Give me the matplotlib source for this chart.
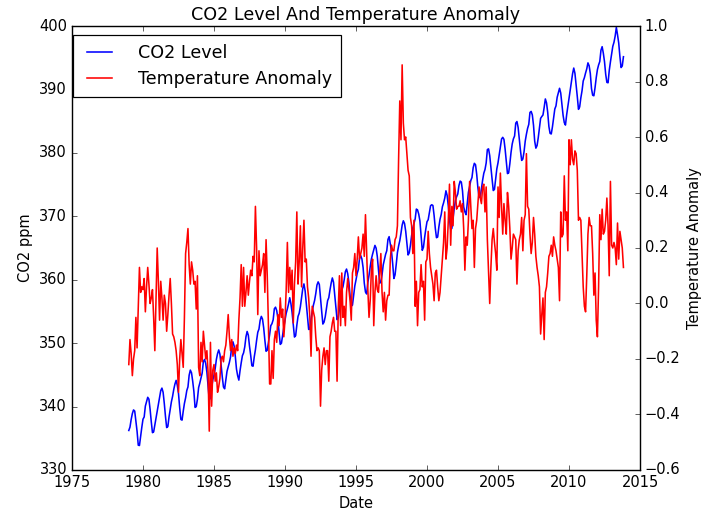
import numpy as np
import matplotlib
matplotlib.use("Agg")
import matplotlib.pyplot as plt
from matplotlib.ticker import FormatStrFormatter

# Monthly series, January 1979 through November 2013
start_year = 1979

co2_ppm = [
    336.23, 336.76, 337.96, 338.89, 339.47, 339.29, 337.73, 336.09, 333.91, 333.86, 335.29, 336.73,  # 1979
    338.01, 338.36, 340.08, 340.77, 341.46, 341.17, 339.56, 337.60, 335.88, 336.01, 337.10, 338.21,  # 1980
    339.23, 340.47, 341.38, 342.51, 342.91, 342.25, 340.49, 338.43, 336.69, 336.85, 338.36, 339.61,  # 1981
    340.75, 341.61, 342.70, 343.56, 344.13, 343.35, 342.06, 339.82, 337.97, 337.86, 339.26, 340.49,  # 1982
    341.38, 342.52, 343.10, 344.94, 345.75, 345.32, 343.99, 342.39, 339.86, 339.99, 341.16, 342.99,  # 1983
    343.70, 344.51, 345.28, 347.08, 347.43, 346.79, 345.40, 343.28, 341.07, 341.35, 342.98, 344.22,  # 1984
    344.97, 345.99, 347.42, 348.35, 348.93, 348.25, 346.56, 344.67, 343.09, 342.80, 344.24, 345.56,  # 1985
    346.29, 346.96, 347.86, 349.55, 350.21, 349.54, 347.94, 345.91, 344.86, 344.17, 345.66, 346.90,  # 1986
    348.02, 348.47, 349.42, 350.99, 351.84, 351.25, 349.52, 348.10, 346.44, 346.36, 347.81, 348.96,  # 1987
    350.43, 351.72, 352.22, 353.59, 354.22, 353.79, 352.39, 350.44, 348.72, 348.88, 350.07, 351.34,  # 1988
    352.76, 353.07, 353.68, 355.42, 355.67, 355.13, 353.90, 351.67, 349.80, 349.99, 351.30, 352.53,  # 1989
    353.66, 354.70, 355.39, 356.20, 357.16, 356.22, 354.82, 352.91, 350.96, 351.18, 352.83, 354.21,  # 1990
    354.72, 355.75, 357.16, 358.60, 359.34, 358.24, 356.17, 354.03, 352.16, 352.21, 353.75, 354.99,  # 1991
    355.99, 356.72, 357.81, 359.15, 359.66, 359.25, 357.02, 355.00, 353.01, 353.31, 354.16, 355.40,  # 1992
    356.70, 357.16, 358.38, 359.46, 360.28, 359.60, 357.57, 355.52, 353.70, 353.98, 355.33, 356.80,  # 1993
    358.36, 358.91, 359.97, 361.26, 361.68, 360.95, 359.55, 357.49, 355.84, 355.99, 357.58, 359.04,  # 1994
    359.97, 361.00, 361.64, 363.45, 363.79, 363.26, 361.90, 359.46, 358.06, 357.75, 359.56, 360.70,  # 1995
    362.05, 363.25, 364.03, 364.72, 365.41, 364.97, 363.65, 361.49, 359.46, 359.60, 360.76, 362.33,  # 1996
    363.18, 364.00, 364.57, 366.35, 366.79, 365.62, 364.47, 362.51, 360.19, 360.77, 362.43, 364.28,  # 1997
    365.32, 366.15, 367.31, 368.61, 369.29, 368.87, 367.64, 365.77, 363.90, 364.23, 365.46, 366.97,  # 1998
    368.15, 368.87, 369.59, 371.14, 371.00, 370.35, 369.27, 366.94, 364.63, 365.12, 366.67, 368.01,  # 1999
    369.14, 369.46, 370.52, 371.66, 371.82, 371.70, 370.12, 368.12, 366.62, 366.73, 368.29, 369.53,  # 2000
    370.28, 371.50, 372.12, 372.87, 374.02, 373.30, 371.62, 369.55, 367.96, 368.09, 369.68, 371.24,  # 2001
    372.44, 373.08, 373.52, 374.85, 375.55, 375.40, 374.02, 371.48, 370.70, 370.25, 372.08, 373.78,  # 2002
    374.68, 375.63, 376.11, 377.65, 378.35, 378.13, 376.62, 374.50, 372.99, 373.01, 374.35, 375.70,  # 2003
    376.79, 377.37, 378.41, 380.52, 380.63, 379.57, 377.79, 375.86, 374.06, 374.24, 375.86, 377.48,  # 2004
    378.43, 379.70, 380.92, 382.18, 382.45, 382.14, 380.60, 378.64, 376.73, 376.84, 378.29, 380.06,  # 2005
    381.40, 382.20, 382.66, 384.69, 384.94, 384.01, 382.14, 380.31, 378.81, 379.03, 380.17, 381.85,  # 2006
    382.94, 383.86, 384.49, 386.37, 386.54, 385.98, 384.35, 381.85, 380.74, 381.15, 382.38, 383.94,  # 2007
    385.44, 385.73, 385.97, 387.16, 388.50, 387.88, 386.38, 384.15, 383.07, 382.98, 384.11, 385.54,  # 2008
    386.92, 387.41, 388.77, 389.46, 390.18, 389.43, 387.74, 385.91, 384.77, 384.38, 385.99, 387.26,  # 2009
    388.45, 389.82, 391.08, 392.46, 393.37, 392.55, 390.78, 388.87, 386.86, 387.24, 388.67, 389.79,  # 2010
    391.33, 391.86, 392.60, 393.25, 394.19, 393.74, 392.51, 390.13, 389.08, 389.00, 390.28, 391.86,  # 2011
    393.12, 393.86, 394.40, 396.18, 396.74, 395.71, 394.36, 392.39, 391.11, 391.05, 392.98, 394.34,  # 2012
    395.55, 396.80, 397.43, 398.41, 399.78, 398.61, 397.32, 395.20, 393.45, 393.70, 395.16,          # 2013
]

temp_anomaly = [
    -0.22, -0.13, -0.18, -0.26, -0.20, -0.17, -0.05, -0.16, -0.02, 0.13, 0.04, 0.06,   # 1979
    0.05, 0.09, -0.03, 0.06, 0.13, 0.07, 0.00, 0.02, 0.05, -0.05, -0.17, 0.02,         # 1980
    0.20, 0.08, -0.06, 0.08, 0.02, -0.06, 0.03, 0.00, -0.10, -0.04, 0.03, 0.09,        # 1981
    0.00, -0.11, -0.12, -0.14, -0.17, -0.22, -0.32, -0.20, -0.13, -0.18, -0.23, -0.05, # 1982
    0.18, 0.22, 0.27, 0.14, 0.07, 0.15, 0.12, 0.07, 0.08, -0.02, 0.10, -0.23,          # 1983
    -0.26, -0.14, -0.21, -0.10, -0.15, -0.20, -0.17, -0.25, -0.46, -0.14, -0.37, -0.24, # 1984
    -0.22, -0.28, -0.25, -0.32, -0.30, -0.27, -0.20, -0.19, -0.21, -0.17, -0.15, -0.10, # 1985
    -0.04, -0.12, -0.17, -0.13, -0.19, -0.16, -0.18, -0.15, -0.17, -0.06, 0.02, 0.14,  # 1986
    -0.01, 0.13, -0.01, 0.04, 0.10, 0.03, 0.08, 0.12, 0.10, 0.17, 0.15, 0.35,          # 1987
    0.20, -0.04, 0.19, 0.10, 0.12, 0.14, 0.18, 0.04, 0.23, 0.10, -0.08, -0.29,         # 1988
    -0.29, -0.17, -0.27, -0.13, -0.10, -0.14, -0.04, -0.08, 0.02, -0.05, -0.02, -0.12, # 1989
    -0.06, 0.05, 0.22, 0.04, 0.13, 0.05, 0.12, -0.07, 0.07, 0.15, 0.33, 0.07,          # 1990
    0.15, 0.28, 0.06, 0.20, 0.30, 0.15, 0.16, 0.06, 0.02, -0.05, -0.19, -0.01,         # 1991
    -0.03, -0.05, -0.12, -0.17, -0.16, -0.17, -0.37, -0.24, -0.19, -0.16, -0.22, -0.17, # 1992
    -0.17, -0.28, -0.12, -0.10, -0.07, -0.05, -0.10, -0.10, -0.28, -0.02, 0.10, -0.08, # 1993
    0.11, -0.05, -0.01, -0.08, 0.04, 0.09, 0.05, 0.01, -0.06, 0.11, 0.13, 0.18,        # 1994
    0.10, 0.16, 0.24, 0.16, 0.18, 0.20, 0.25, 0.17, 0.32, 0.19, 0.05, -0.05,           # 1995
    0.01, 0.12, 0.16, -0.08, 0.04, 0.10, 0.05, 0.04, 0.11, 0.18, 0.04, -0.03,          # 1996
    0.04, -0.06, 0.01, 0.03, 0.03, 0.16, 0.21, 0.19, 0.19, 0.23, 0.24, 0.28,           # 1997
    0.52, 0.73, 0.59, 0.86, 0.65, 0.59, 0.60, 0.54, 0.48, 0.46, 0.31, 0.28,            # 1998
    0.18, 0.30, -0.01, 0.08, -0.08, 0.04, 0.05, 0.14, 0.06, 0.08, -0.06, 0.15,         # 1999
    0.16, 0.26, 0.18, 0.13, 0.10, 0.07, 0.01, 0.11, 0.12, 0.06, 0.01, 0.04,            # 2000
    0.10, 0.16, 0.22, 0.33, 0.16, 0.20, 0.30, 0.43, 0.21, 0.35, 0.28, 0.44,            # 2001
    0.40, 0.34, 0.35, 0.35, 0.37, 0.33, 0.36, 0.27, 0.12, 0.24, 0.21, 0.30,            # 2002
    0.44, 0.35, 0.27, 0.30, 0.13, 0.27, 0.30, 0.36, 0.42, 0.38, 0.36, 0.42,            # 2003
    0.43, 0.33, 0.42, 0.23, 0.11, 0.00, 0.13, 0.23, 0.27, 0.22, 0.18, 0.12,            # 2004
    0.42, 0.31, 0.47, 0.35, 0.25, 0.36, 0.30, 0.25, 0.40, 0.35, 0.27, 0.16,            # 2005
    0.20, 0.25, 0.24, 0.23, 0.07, 0.19, 0.23, 0.25, 0.31, 0.19, 0.30, 0.32,            # 2006
    0.54, 0.35, 0.34, 0.25, 0.18, 0.22, 0.31, 0.25, 0.17, 0.13, 0.10, 0.06,            # 2007
    -0.11, -0.04, 0.02, -0.13, 0.04, 0.06, 0.11, 0.17, 0.18, 0.21, 0.17, 0.24,         # 2008
    0.21, 0.19, 0.16, 0.13, 0.01, 0.33, 0.24, 0.25, 0.46, 0.30, 0.33, 0.19,            # 2009
    0.59, 0.50, 0.59, 0.52, 0.50, 0.55, 0.54, 0.48, 0.30, 0.31, 0.30, 0.18,            # 2010
    0.06, -0.01, -0.03, 0.10, 0.25, 0.31, 0.28, 0.28, 0.18, 0.03, 0.11, -0.06,         # 2011
    -0.12, 0.06, 0.32, 0.23, 0.34, 0.25, 0.26, 0.30, 0.38, 0.28, 0.10, 0.44,           # 2012
    0.21, 0.20, 0.22, 0.20, 0.14, 0.29, 0.16, 0.26, 0.23, 0.20, 0.13,                  # 2013
]

x_ticks = [1975, 1980, 1985, 1990, 1995, 2000, 2005, 2010, 2015]
co2_ticks = [330, 340, 350, 360, 370, 380, 390, 400]
temp_ticks = [-0.6, -0.4, -0.2, 0.0, 0.2, 0.4, 0.6, 0.8, 1.0]

plt.style.use("classic")
plt.rcParams["font.family"] = "DejaVu Sans"

dpi = 87.625
fig = plt.figure(figsize=(701 / dpi, 515 / dpi), dpi=dpi, facecolor="white")
ax = fig.add_axes([0.1027, 0.0874, 0.8103, 0.8621])

dates = start_year + np.arange(len(co2_ppm)) / 12.0
line_co2, = ax.plot(dates, co2_ppm, color="b", lw=1.3, label="CO2 Level")
ax.set_xlim(1975, 2015)
ax.set_ylim(330, 400)
ax.set_xticks(x_ticks)
ax.xaxis.set_major_formatter(FormatStrFormatter("%d"))
ax.set_yticks(co2_ticks)
ax.set_xlabel("Date")
ax.set_ylabel("CO2 ppm")
ax.set_title("CO2 Level And Temperature Anomaly", fontsize="large")

ax2 = ax.twinx()
t_dates = start_year + np.arange(len(temp_anomaly)) / 12.0
line_temp, = ax2.plot(t_dates, temp_anomaly, color="r", lw=1.3, label="Temperature Anomaly")
ax2.set_ylim(-0.6, 1.0)
ax2.set_yticks(temp_ticks)
ax2.set_ylabel("Temperature Anomaly")

ax.legend([line_co2, line_temp], ["CO2 Level", "Temperature Anomaly"],
          loc="upper left", bbox_to_anchor=(0.002, 0.98), borderaxespad=0,
          borderpad=0.5, handletextpad=1.2, fontsize="large")

fig.savefig("out.png", dpi=dpi, facecolor="white")
